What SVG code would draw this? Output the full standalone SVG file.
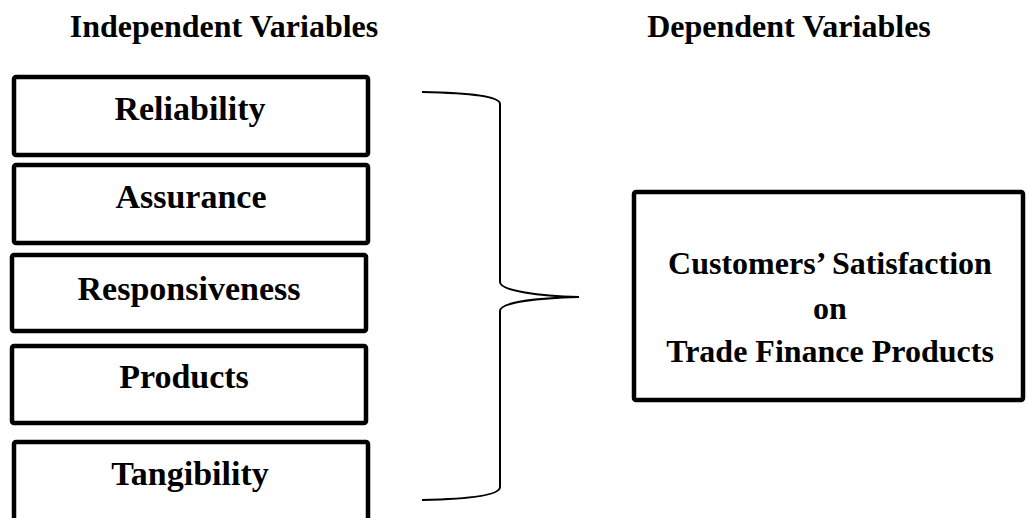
<svg xmlns="http://www.w3.org/2000/svg" width="1027" height="518" viewBox="0 0 1027 518">
  <style>
    text { font-family: "Liberation Serif", "Times New Roman", serif; font-weight: bold; fill: #000; text-anchor: middle; }
    .hdr { font-size: 32px; }
    .lbl { font-size: 34px; }
    .tgt { font-size: 32px; }
    .box { fill: #fff; stroke: #000; stroke-width: 4.5; }
    .brace { fill: none; stroke: #000; stroke-width: 2; }
  </style>
  <rect width="1027" height="518" fill="#fff"/>
  <g id="headers">
    <text class="hdr" x="224" y="37">Independent Variables</text>
    <text class="hdr" x="789" y="37">Dependent Variables</text>
  </g>
  <g id="reliability">
    <rect class="box" x="14" y="77" width="354" height="78" rx="2"/>
    <text class="lbl" x="190" y="120">Reliability</text>
  </g>
  <g id="assurance">
    <rect class="box" x="14" y="165" width="354" height="78" rx="2"/>
    <text class="lbl" x="191" y="208">Assurance</text>
  </g>
  <g id="responsiveness">
    <rect class="box" x="12" y="255" width="354" height="76" rx="2"/>
    <text class="lbl" x="189" y="300">Responsiveness</text>
  </g>
  <g id="products">
    <rect class="box" x="12" y="346" width="354" height="77" rx="2"/>
    <text class="lbl" x="184" y="388">Products</text>
  </g>
  <g id="tangibility">
    <rect class="box" x="14" y="442" width="354" height="100" rx="2"/>
    <text class="lbl" x="190" y="485">Tangibility</text>
  </g>
  <g id="connectors">
    <path class="brace" d="M422,92 C470,93 500,96 500,104 L500,282 C500,291 540,296 579,297"/>
    <path class="brace" d="M579,297 C540,298 500,302 500,311 L500,487 C500,495 470,499 422,500"/>
  </g>
  <g id="satisfaction">
    <rect class="box" x="634" y="192" width="389" height="208" rx="2"/>
    <text class="tgt" x="830" y="274">Customers’ Satisfaction</text>
    <text class="tgt" x="830" y="319">on</text>
    <text class="tgt" x="830" y="362">Trade Finance Products</text>
  </g>
</svg>
